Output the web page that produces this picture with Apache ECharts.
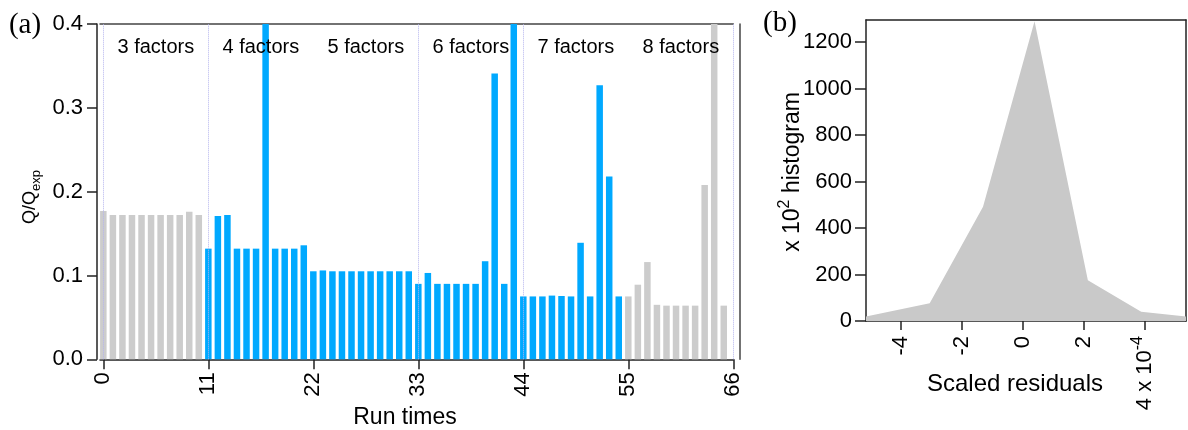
<!DOCTYPE html>
<html>
<head>
<meta charset="utf-8">
<script src="https://cdn.jsdelivr.net/npm/echarts@6/dist/echarts.min.js"></script>
<style>
    html, body { margin: 0; padding: 0; background: #fff; }
    #main { width: 1188px; height: 430px; }
</style>
</head>
<body>
<div id="main"></div>
<script>
    // panel (a): Q/Qexp for every run, runs 0..65
    var qRatio = [
        0.177, 0.172, 0.172, 0.172, 0.172, 0.172, 0.172, 0.172, 0.172, 0.176, 0.172,
        0.132, 0.171, 0.172, 0.132, 0.132, 0.132, 0.45, 0.132, 0.132, 0.132, 0.136,
        0.105, 0.106, 0.105, 0.105, 0.105, 0.105, 0.105, 0.105, 0.105, 0.105, 0.105,
        0.090, 0.103, 0.090, 0.090, 0.090, 0.090, 0.090, 0.117, 0.341, 0.090, 0.45,
        0.075, 0.075, 0.075, 0.076, 0.0755, 0.075, 0.139, 0.075, 0.327, 0.218, 0.075,
        0.075, 0.089, 0.116, 0.065, 0.064, 0.064, 0.064, 0.064, 0.208, 0.45, 0.064
    ];
    var blueFirst = 11, blueLast = 54;
    var factorLabels = ['3 factors', '4 factors', '5 factors', '6 factors', '7 factors', '8 factors'];
    var runsPerFactor = 11;
    var separatorRuns = [0, 11, 33, 44, 66];
    var runTicks = [0, 11, 22, 33, 44, 55, 66];
    var qTicks = [0, 0.1, 0.2, 0.3, 0.4];

    // panel (b): histogram of scaled residuals (x axis in units of 10^-4)
    var residuals = [-5.15, -3.06, -1.31, 0.38, 2.13, 3.88, 5.35];
    var counts = [19, 76, 492, 1290, 175, 40, 19];
    var residualTicks = [-4, -2, 0, 2, 4];
    var countTicks = [0, 200, 400, 600, 800, 1000, 1200];

    var FONT = 'Liberation Sans, Arial, sans-serif';
    var axisCol = '#222';

    var grayData = [], blueData = [];
    for (var i = 0; i < qRatio.length; i++) {
        if (i >= blueFirst && i <= blueLast) blueData.push([i, qRatio[i]]);
        else grayData.push([i, qRatio[i]]);
    }
    var labelPoints = factorLabels.map(function (t, k) {
        return { name: t, coord: [k * runsPerFactor + 5.5, 0.372] };
    });
    var histData = residuals.map(function (x, k) { return [x, counts[k]]; });

    var frame = { show: true, onZero: false, lineStyle: { color: axisCol, width: 1.5 } };
    var plain = function (v) { return String(v); };
    var lastResTick = residualTicks[residualTicks.length - 1];

    var option = {
        animation: false,
        grid: [
            { left: 100, right: 454.7, top: 24, bottom: 70.7 },
            { left: 866, right: 2, top: 20, bottom: 109 }
        ],
        xAxis: [
            {
                gridIndex: 0, type: 'value', min: -0.35, max: 66, position: 'bottom',
                axisLine: frame,
                axisTick: { show: true, length: 10, customValues: runTicks, lineStyle: { color: axisCol, width: 1.5 } },
                axisLabel: { customValues: runTicks, rotate: 90, margin: 13, fontSize: 22, fontFamily: FONT, color: '#000', formatter: plain },
                splitLine: { show: false }
            },
            {
                gridIndex: 0, type: 'value', min: -0.35, max: 66, position: 'top',
                axisLine: { show: true, onZero: false, lineStyle: { color: '#444', width: 1.5 } },
                axisTick: { show: false }, axisLabel: { show: false }, splitLine: { show: false }
            },
            {
                gridIndex: 1, type: 'value', min: -5.15, max: 5.35, position: 'bottom',
                axisLine: frame,
                axisTick: { show: true, length: 9, customValues: residualTicks, lineStyle: { color: axisCol, width: 1.5 } },
                axisLabel: {
                    customValues: residualTicks, rotate: 90, margin: 15, color: '#000',
                    formatter: function (v) {
                        // the last tick carries the axis multiplier
                        return v === lastResTick ? '{m|' + v + ' x 10}{p|-4}' : '{m|' + v + '}';
                    },
                    rich: {
                        m: { fontSize: 22, fontFamily: FONT, color: '#000', lineHeight: 30, verticalAlign: 'middle' },
                        p: { fontSize: 16, fontFamily: FONT, color: '#000', lineHeight: 16, verticalAlign: 'top' }
                    }
                },
                splitLine: { show: false }
            },
            {
                gridIndex: 1, type: 'value', min: -5.15, max: 5.35, position: 'top',
                axisLine: frame, axisTick: { show: false }, axisLabel: { show: false }, splitLine: { show: false }
            }
        ],
        yAxis: [
            {
                gridIndex: 0, type: 'value', min: 0, max: 0.4, position: 'left', offset: 3,
                axisLine: frame,
                axisTick: { show: true, length: 10, customValues: qTicks, lineStyle: { color: axisCol, width: 1.5 } },
                axisLabel: {
                    customValues: qTicks, margin: 14, fontSize: 22, fontFamily: FONT, color: '#000',
                    formatter: function (v) { return v.toFixed(1); }
                },
                splitLine: { show: false }
            },
            {
                gridIndex: 0, type: 'value', min: 0, max: 0.4, position: 'right', offset: 6,
                axisLine: { show: true, onZero: false, lineStyle: { color: '#444', width: 1.5 } },
                axisTick: { show: false }, axisLabel: { show: false }, splitLine: { show: false }
            },
            {
                gridIndex: 1, type: 'value', min: 0, max: 1295, position: 'left',
                axisLine: frame,
                axisTick: { show: true, length: 11, customValues: countTicks, lineStyle: { color: axisCol, width: 1.5 } },
                axisLabel: { customValues: countTicks, margin: 14, fontSize: 22, fontFamily: FONT, color: '#000', formatter: plain },
                splitLine: { show: false }
            },
            {
                gridIndex: 1, type: 'value', min: 0, max: 1295, position: 'right',
                axisLine: frame, axisTick: { show: false }, axisLabel: { show: false }, splitLine: { show: false }
            }
        ],
        series: [
            {
                type: 'bar', xAxisIndex: 0, yAxisIndex: 0, data: grayData,
                barWidth: 6.5, barGap: '-100%', itemStyle: { color: '#cccccc' },
                markLine: {
                    silent: true, symbol: 'none', label: { show: false },
                    lineStyle: { color: '#b4b4ee', type: 'dotted', width: 1 },
                    data: separatorRuns.map(function (r) { return { xAxis: r }; })
                }
            },
            {
                type: 'bar', xAxisIndex: 0, yAxisIndex: 0, data: blueData,
                barWidth: 6.5, barGap: '-100%', itemStyle: { color: '#00a9ff' },
                markPoint: {
                    silent: true, symbol: 'circle', symbolSize: 1,
                    itemStyle: { color: 'rgba(0,0,0,0)' },
                    label: { show: true, position: 'inside', formatter: '{b}', fontSize: 20, fontFamily: FONT, color: '#000' },
                    data: labelPoints
                }
            },
            {
                type: 'line', xAxisIndex: 2, yAxisIndex: 2, data: histData,
                symbol: 'none', lineStyle: { width: 0 },
                areaStyle: { color: '#c9c9c9', opacity: 1 }
            }
        ],
        graphic: [
            { type: 'text', x: 25, y: 25, style: { text: '(a)', fontSize: 29, fontFamily: 'Liberation Serif, Times New Roman, serif', fill: '#000', align: 'center', verticalAlign: 'middle' } },
            { type: 'text', x: 780, y: 23, style: { text: '(b)', fontSize: 29, fontFamily: 'Liberation Serif, Times New Roman, serif', fill: '#000', align: 'center', verticalAlign: 'middle' } },
            {
                type: 'text', x: 30, y: 197, rotation: Math.PI / 2,
                style: {
                    text: '{m|Q/Q}{s|exp}', align: 'center', verticalAlign: 'middle',
                    rich: {
                        m: { fontSize: 18, fontFamily: FONT, fill: '#000', lineHeight: 26, verticalAlign: 'middle' },
                        s: { fontSize: 13, fontFamily: FONT, fill: '#000', lineHeight: 13, verticalAlign: 'bottom' }
                    }
                }
            },
            { type: 'text', x: 405, y: 418, style: { text: 'Run times', fontSize: 23, fontFamily: FONT, fill: '#000', align: 'center', verticalAlign: 'middle' } },
            {
                type: 'text', x: 793, y: 172, rotation: Math.PI / 2,
                style: {
                    text: '{m|x 10}{p|2}{m| histogram}', align: 'center', verticalAlign: 'middle',
                    rich: {
                        m: { fontSize: 23, fontFamily: FONT, fill: '#000', lineHeight: 32, verticalAlign: 'middle' },
                        p: { fontSize: 16, fontFamily: FONT, fill: '#000', lineHeight: 16, verticalAlign: 'top' }
                    }
                }
            },
            { type: 'text', x: 1015, y: 384, style: { text: 'Scaled residuals', fontSize: 24, fontFamily: FONT, fill: '#000', align: 'center', verticalAlign: 'middle' } }
        ]
    };

    var myChart = echarts.init(document.getElementById('main'));
    myChart.setOption(option);
</script>
</body>
</html>
